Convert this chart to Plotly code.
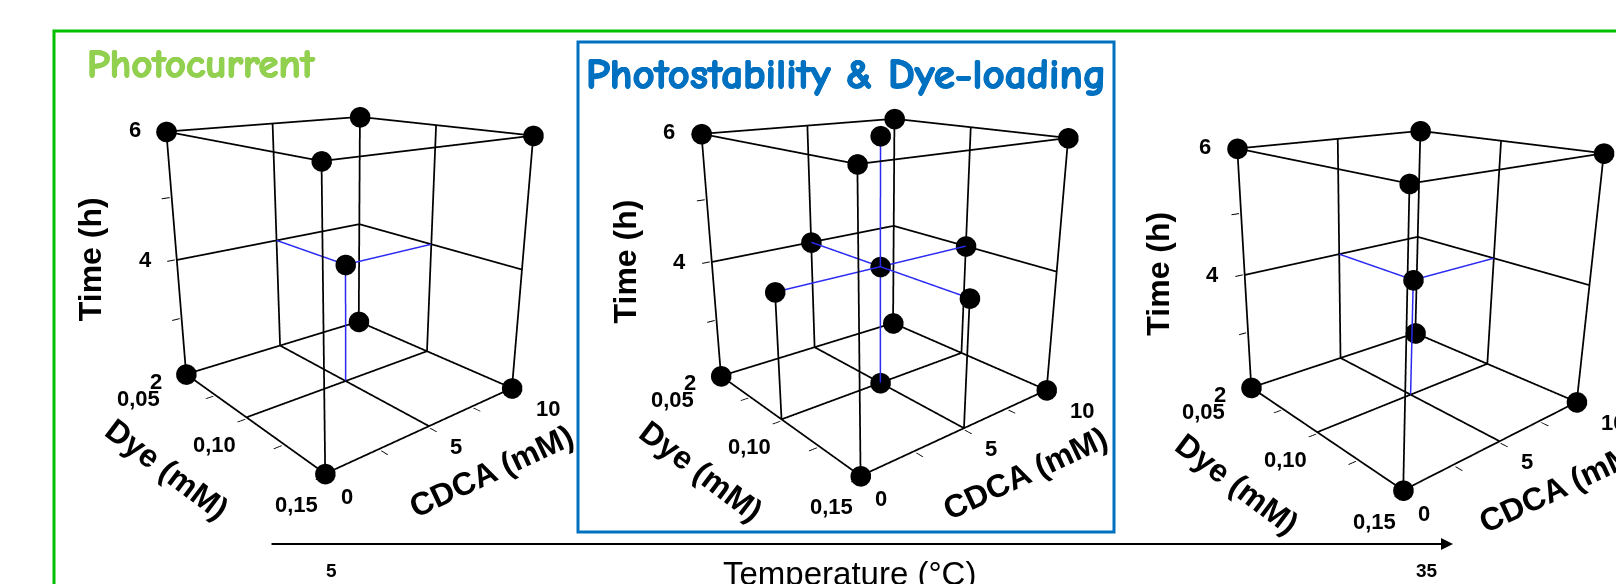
import math
import plotly.graph_objects as go

# ---------------- data ----------------
dye_ticks = [0.05, 0.10, 0.15]
dye_ticktext = ["0,05", "0,10", "0,15"]
cdca_ticks = [0, 5, 10]
cdca_ticktext = ["0", "5", "10"]
time_ticks = [2, 4, 6]
time_ticktext = ["2", "4", "6"]
time_minor = [2, 3, 4, 5, 6]
dye_minor = [0.05, 0.075, 0.10, 0.125, 0.15]
cdca_minor = [0, 2.5, 5, 7.5, 10]
temperature_labels = ["5", "35"]

# cube corners (Dye mM, CDCA mM, Time h)
corner_dye = [0.05, 0.05, 0.05, 0.05, 0.15, 0.15, 0.15, 0.15]
corner_cdca = [0, 0, 10, 10, 0, 0, 10, 10]
corner_time = [2, 6, 2, 6, 2, 6, 2, 6]
# centre point
center_dye = [0.10]
center_cdca = [5]
center_time = [4]
# face-centre points (middle temperature only)
face_dye = [0.05, 0.15, 0.10, 0.10, 0.10, 0.10]
face_cdca = [5, 5, 0, 10, 5, 5]
face_time = [4, 4, 4, 4, 2, 6]

# drop lines from centre to back walls and floor (outer temperatures)
drop_dye = [0.10, 0.05, None, 0.10, 0.10, None, 0.10, 0.10]
drop_cdca = [5, 5, None, 5, 10, None, 5, 5]
drop_time = [4, 4, None, 4, 4, None, 4, 2]
# axes through the centre (middle temperature)
cross_dye = [0.05, 0.15, None, 0.10, 0.10, None, 0.10, 0.10]
cross_cdca = [5, 5, None, 0, 10, None, 5, 5]
cross_time = [4, 4, None, 4, 4, None, 2, 6]
# black drop lines of front face points (middle temperature)
fdrop_dye = [0.10, 0.10, None, 0.15, 0.15]
fdrop_cdca = [0, 0, None, 5, 5]
fdrop_time = [4, 2, None, 4, 2]

W, H = 1616, 584
fig = go.Figure()

BLUE_LINE = "#2a2af0"
MARK = dict(size=12, color="black", line=dict(width=0))
FONT = "Liberation Sans, Arial, sans-serif"

x0, xm, x1 = dye_ticks
y0, ym, y1 = cdca_ticks
z0, zm, z1 = time_ticks

# box edges + back-wall / floor grid lines, built from the axis bounds
segments = []
for a in (x0, x1):
    for b in (y0, y1):
        segments.append(((a, b, z0), (a, b, z1)))
for a in (x0, x1):
    for c in (z0, z1):
        segments.append(((a, y0, c), (a, y1, c)))
for b in (y0, y1):
    for c in (z0, z1):
        segments.append(((x0, b, c), (x1, b, c)))
segments += [
    ((xm, y0, z0), (xm, y1, z0)), ((x0, ym, z0), (x1, ym, z0)),
    ((x0, y0, zm), (x0, y1, zm)), ((x0, ym, z0), (x0, ym, z1)),
    ((x0, y1, zm), (x1, y1, zm)), ((xm, y1, z0), (xm, y1, z1)),
]
gx, gy, gz = [], [], []
for p, q in segments:
    gx += [p[0], q[0], None]
    gy += [p[1], q[1], None]
    gz += [p[2], q[2], None]

LW = 3.5


def add_cube(scene, middle):
    fig.add_trace(go.Scatter3d(x=gx, y=gy, z=gz, mode="lines", line=dict(color="black", width=LW),
                               scene=scene, showlegend=False, hoverinfo="skip"))
    if middle:
        fig.add_trace(go.Scatter3d(x=fdrop_dye, y=fdrop_cdca, z=fdrop_time, mode="lines",
                                   line=dict(color="black", width=LW), scene=scene,
                                   showlegend=False, hoverinfo="skip"))
        fig.add_trace(go.Scatter3d(x=cross_dye, y=cross_cdca, z=cross_time, mode="lines",
                                   line=dict(color=BLUE_LINE, width=3), scene=scene,
                                   showlegend=False, hoverinfo="skip"))
    else:
        fig.add_trace(go.Scatter3d(x=drop_dye, y=drop_cdca, z=drop_time, mode="lines",
                                   line=dict(color=BLUE_LINE, width=3), scene=scene,
                                   showlegend=False, hoverinfo="skip"))
    xs = corner_dye + center_dye + (face_dye if middle else [])
    ys = corner_cdca + center_cdca + (face_cdca if middle else [])
    zs = corner_time + center_time + (face_time if middle else [])
    fig.add_trace(go.Scatter3d(x=xs, y=ys, z=zs, mode="markers", marker=MARK,
                               scene=scene, showlegend=False, hoverinfo="skip"))


add_cube("scene", False)
add_cube("scene2", True)
add_cube("scene3", False)


def axis(vals, lo, hi):
    pad = (hi - lo) * 0.006
    return dict(
        title=dict(text=""), range=[lo - pad, hi + pad], autorange=False, tickvals=vals,
        showticklabels=False, showgrid=False, showline=False,
        showbackground=False, zeroline=False, showspikes=False,
        ticks="outside", tickcolor="black", ticklen=7, tickwidth=2,
    )


TICKF = dict(family=FONT, size=22, color="black", weight="bold")
TITLEF = dict(family=FONT, size=32, color="black", weight="bold")


def scene_annotations():
    ann = []
    zshift = {2: (-31, -7), 4: (-32, 0), 6: (-32, 2)}
    for v, t in zip(time_ticks, time_ticktext):
        ann.append(dict(x=x0, y=y0, z=v, text=t, xshift=zshift[v][0], yshift=zshift[v][1]))
    dshift = [(-48, -24), (-32, -27), (-29, -31)]
    for v, t, s in zip(dye_ticks, dye_ticktext, dshift):
        ann.append(dict(x=v, y=y0, z=z0, text=t, xshift=s[0], yshift=s[1]))
    cshift = [(21, -23), (27, -20), (36, -20)]
    for v, t, s in zip(cdca_ticks, cdca_ticktext, cshift):
        ann.append(dict(x=x1, y=v, z=z0, text=t, xshift=s[0], yshift=s[1]))
    out = [dict(a, showarrow=False, font=TICKF, xanchor="center", yanchor="middle") for a in ann]
    out.append(dict(x=x0, y=y0, z=zm, text="Time (h)", xshift=-87, yshift=1, textangle=-90,
                    showarrow=False, font=TITLEF))
    out.append(dict(x=xm, y=y0, z=z0, text="Dye (mM)", xshift=-80, yshift=-52, textangle=37,
                    showarrow=False, font=TITLEF))
    out.append(dict(x=x1, y=ym, z=z0, text="CDCA (mM)", xshift=62, yshift=-45, textangle=-25,
                    showarrow=False, font=TITLEF))
    return out


# camera geometry
az = math.radians(39.5)
elev = math.radians(19)
D = 2.88
f = (H / 2) / math.tan(math.pi / 8)
k = D / f
E0 = (D * math.cos(elev) * math.cos(az), -D * math.cos(elev) * math.sin(az), D * math.sin(elev))
Rv = (math.sin(az), math.cos(az), 0.0)


def camera(dom, cx_px, cy_px):
    scx = (dom[0] + dom[1]) / 2 * W
    sx = cx_px - scx
    sy = cy_px - H / 2
    T = (-sx * k * Rv[0], -sx * k * Rv[1], sy * k / math.cos(elev))
    return dict(eye=dict(x=E0[0] + T[0], y=E0[1] + T[1], z=E0[2] + T[2]),
                center=dict(x=T[0], y=T[1], z=T[2]), up=dict(x=0, y=0, z=1))


doms = [(0.03, 0.40), (0.36, 0.728), (0.69, 1.0)]
targets = [(346, 265), (880, 267), (1413, 280)]
for i, name in enumerate(["scene", "scene2", "scene3"]):
    fig.layout[name] = dict(
        domain=dict(x=list(doms[i]), y=[0, 1]),
        xaxis=axis(dye_minor, x0, x1),
        yaxis=axis(cdca_minor, y0, y1),
        zaxis=axis(time_minor, z0, z1),
        aspectmode="manual", aspectratio=dict(x=1, y=1, z=1.05),
        camera=camera(doms[i], *targets[i]),
        bgcolor="rgba(0,0,0,0)",
        annotations=scene_annotations(),
    )

# frames
fig.add_shape(type="rect", xref="paper", yref="paper", x0=54 / W, x1=1.05, y0=-0.1, y1=1 - 31 / H,
              line=dict(color="#00c000", width=3))
fig.add_shape(type="rect", xref="paper", yref="paper", x0=578 / W, x1=1114 / W,
              y0=1 - 532 / H, y1=1 - 42 / H, line=dict(color="#0070c0", width=3))

TITLE_FONT = "Comic Sans MS, Comic Neue, Lato, sans-serif"
GREEN_T = "#92d050"
BLUE_T = "#0070c0"


def faux_bold(c):
    return f"0.7px 0 0 {c}, -0.7px 0 0 {c}, 0 0.6px 0 {c}, 0 -0.4px 0 {c}"


fig.add_annotation(x=85 / W, y=1 - 63 / H, xref="paper", yref="paper", text="<b>Photocurrent</b>",
                   showarrow=False, xanchor="left", yanchor="middle",
                   font=dict(family=TITLE_FONT, size=41, color=GREEN_T, shadow=faux_bold(GREEN_T)))
fig.add_annotation(x=846 / W, y=1 - 74 / H, xref="paper", yref="paper",
                   text="<b>Photostability &amp; Dye-loading</b>",
                   showarrow=False, xanchor="center", yanchor="middle",
                   font=dict(family=TITLE_FONT, size=43, color=BLUE_T, shadow=faux_bold(BLUE_T)))

# temperature arrow
fig.add_annotation(x=1453 / W, y=1 - 544 / H, xref="paper", yref="paper", text="",
                   showarrow=True, ax=270 - 1453, ay=0, axref="pixel", ayref="pixel",
                   arrowhead=2, arrowsize=1.2, arrowwidth=2, arrowcolor="black")
fig.add_annotation(x=324 / W, y=1 - 583 / H, xref="paper", yref="paper", text=temperature_labels[0],
                   showarrow=False, font=dict(family=FONT, size=19, color="black", weight="bold"))
fig.add_annotation(x=1440 / W, y=1 - 583 / H, xref="paper", yref="paper", text=temperature_labels[1],
                   showarrow=False, font=dict(family=FONT, size=19, color="black", weight="bold"))
fig.add_annotation(x=849 / W, y=1 - 594 / H, xref="paper", yref="paper", text="Temperature (°C)",
                   showarrow=False, font=dict(family=FONT, size=33, color="black"))

fig.update_layout(width=W, height=H, margin=dict(l=0, r=0, t=0, b=0),
                  paper_bgcolor="white", plot_bgcolor="white", hovermode=False,
                  showlegend=False)
fig.write_html("out.html", config={"displayModeBar": False},
               post_script="document.body.style.margin='0px';")
